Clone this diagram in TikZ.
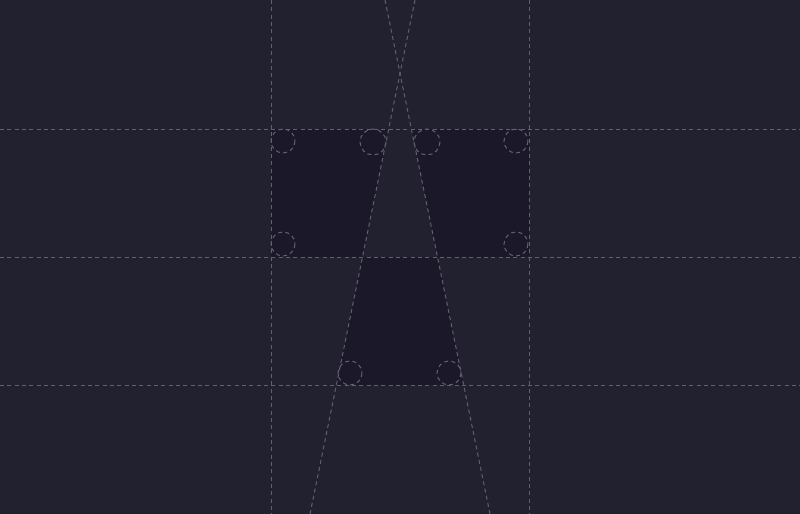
\documentclass[tikz,border=0pt]{standalone}
\definecolor{bg}{HTML}{22212F}
\definecolor{shade}{HTML}{1B1929}
\definecolor{guide}{HTML}{625F70}
\begin{document}
\begin{tikzpicture}[x=0.75pt,y=-0.75pt,
  guideline/.style={draw=guide,line width=0.75pt,dash pattern=on 3pt off 2.5pt},
  shadefill/.style={fill=shade},
  corner/.style={draw=guide,line width=0.75pt,dash pattern=on 3pt off 2.5pt}]
\fill[bg] (0,0) rectangle (800,514);
\useasboundingbox (0,0) rectangle (800,514);
% shaded regions
\fill[shadefill] (271,129) -- (388.6,129) -- (362.5,257) -- (271,257) -- cycle;
\fill[shadefill] (411.4,129) -- (529,129) -- (529,257) -- (437.5,257) -- cycle;
\fill[shadefill] (362.5,257) -- (437.5,257) -- (463.7,385) -- (336.3,385) -- cycle;
% guide lines
\draw[guideline] (271,0) -- (271,514);
\draw[guideline] (529,0) -- (529,514);
\draw[guideline] (0,129) -- (800,129);
\draw[guideline] (0,257) -- (800,257);
\draw[guideline] (0,385) -- (800,385);
\draw[guideline] (385,0) -- (490,514);
\draw[guideline] (415,0) -- (310,514);
% corner circles
\foreach \p in {(283,141),(516,141),(283,244),(516,244),(350,373),(449,373)}
  \draw[corner] \p circle[radius=12];
\foreach \p in {(373,142),(427,142)}
  \draw[corner] \p circle[radius=13];
\end{tikzpicture}
\end{document}
